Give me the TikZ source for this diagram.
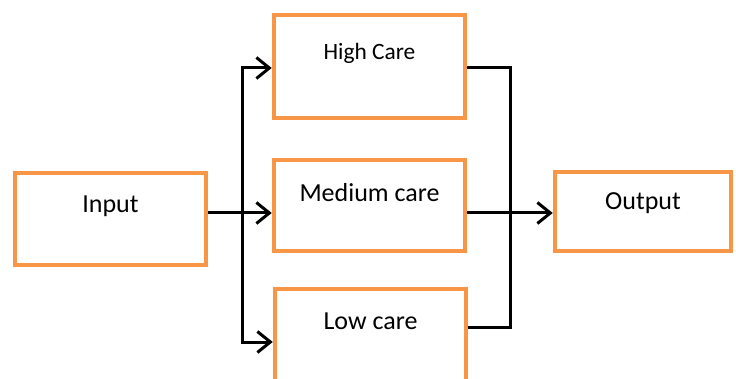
\documentclass[tikz,border=0pt]{standalone}
\usepackage{fontspec}
\setmainfont{Carlito}
\usepackage{xcolor}
\usetikzlibrary{positioning, arrows.meta}
\definecolor{boxorange}{HTML}{F79646}

\begin{document}
\begin{tikzpicture}[x=1pt, y=-1pt,
    box/.style={draw=boxorange, line width=4.5pt, inner sep=0pt,
                minimum width=191pt},
    txt/.style={font=\fontsize{26}{30}\selectfont, inner sep=0pt},
    link/.style={line width=3pt},
    arr/.style={link, -{Straight Barb[length=13pt, width=21pt, line width=3pt]}}
  ]
  \useasboundingbox (0,0) rectangle (736,379);
  \node[box, minimum height=92pt] (input) at (110.5,219) {};
  \node[box, minimum height=103pt] (high) at (369.5,66.5) {};
  \node[box, minimum height=91pt] (med) at (369.5,205.5) {};
  \node[box, minimum height=92pt] (low) at (370.5,335) {};
  \node[box, minimum width=176pt, minimum height=79pt] (out) at (643,211.5) {};

  \node[txt] (inputtxt) at ([yshift=12.5pt]input.center) {Input};
  \node[txt, font=\fontsize{23.4}{28}\selectfont] (hightxt) at ([yshift=13.5pt]high.center) {High Care};
  \node[txt] (medtxt) at ([yshift=13pt]med.center) {Medium care};
  \node[txt] (lowtxt) at ([yshift=14pt]low.center) {Low care};
  \node[txt] (outtxt) at ([yshift=8.5pt]out.center) {Output};

  \coordinate (split) at (242,213);
  \coordinate (join) at (510,213);

  \draw[arr] ([yshift=6pt]input.east) -- ([yshift=-7.5pt]med.west);
  \draw[arr] (split) |- ([yshift=-1.5pt]high.west);
  \draw[arr] (split) |- ([yshift=-7pt]low.west);
  \draw[link] ([yshift=-1.5pt]high.east) -| (join);
  \draw[link] ([yshift=7.5pt]low.east) -| (join);
  \draw[arr] ([yshift=-7.5pt]med.east) -- ([yshift=-1.5pt]out.west);
\end{tikzpicture}
\end{document}
